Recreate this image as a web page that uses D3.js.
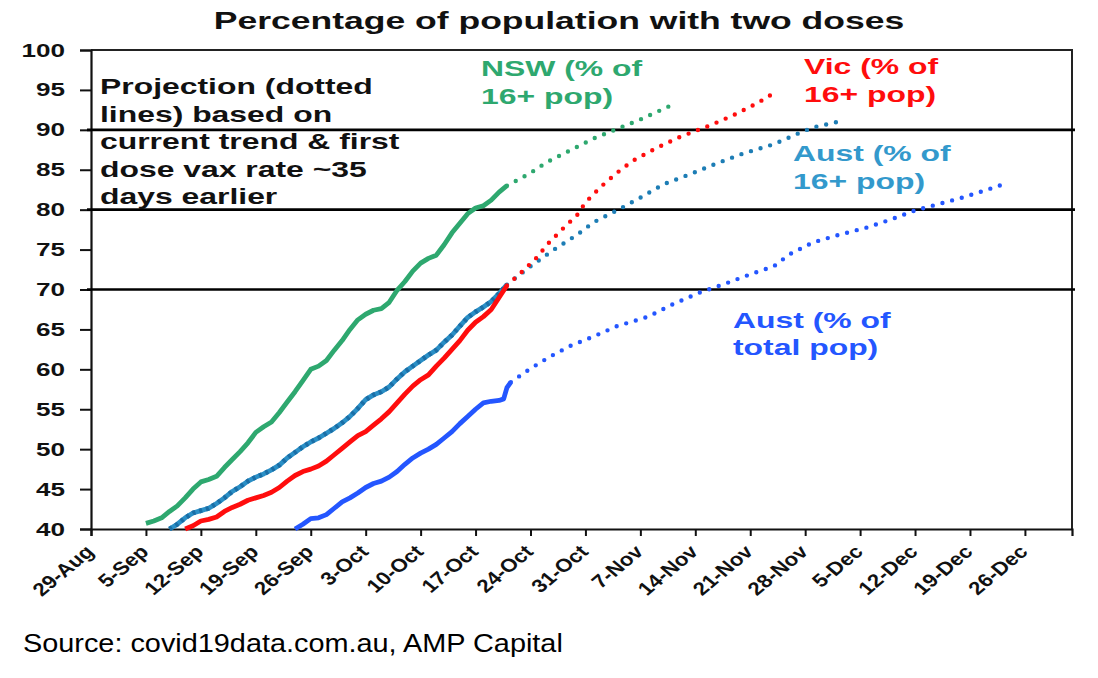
<!DOCTYPE html>
<html>
<head>
<meta charset="utf-8">
<script src="https://cdn.jsdelivr.net/npm/d3@7"></script>
<style>
  body { margin: 0; background: #fff; }
  svg { display: block; font-family: "Liberation Sans", Arial, sans-serif; }
</style>
</head>
<body>
<svg width="1098" height="678"></svg>
<script>
// day offsets from 29-Aug-2021, % with two doses
const nswActual = [[7,40.7],[8,41.0],[9,41.4],[10,42.2],[11,42.9],[12,43.9],[13,45.0],[14,45.9],[15,46.2],[16,46.6],[17,47.7],[18,48.7],[19,49.7],[20,50.8],[21,52.1],[22,52.8],[23,53.4],[24,54.6],[25,55.9],[26,57.2],[27,58.6],[28,60.0],[29,60.4],[30,61.1],[31,62.4],[32,63.6],[33,65.0],[34,66.2],[35,66.9],[36,67.4],[37,67.6],[38,68.4],[39,69.9],[40,71.0],[41,72.3],[42,73.3],[43,73.9],[44,74.3],[45,75.6],[46,77.1],[47,78.3],[48,79.5],[49,80.2],[50,80.5],[51,81.2],[52,82.2],[53,83.0]];
const nswProj = [[53,83.0],[56,84.6],[58,85.9],[61,87.4],[64,88.9],[67,90.1],[70,91.3],[72,92.2],[74,93.1]];

const vicActual = [[12,40.0],[13,40.4],[14,41.0],[15,41.2],[16,41.5],[17,42.2],[18,42.7],[19,43.1],[20,43.6],[21,43.9],[22,44.2],[23,44.6],[24,45.2],[25,46.0],[26,46.7],[27,47.2],[28,47.5],[29,47.9],[30,48.5],[31,49.3],[32,50.1],[33,50.9],[34,51.7],[35,52.2],[36,53.0],[37,53.8],[38,54.7],[39,55.8],[40,56.9],[41,57.9],[42,58.7],[43,59.3],[44,60.4],[45,61.4],[46,62.5],[47,63.6],[48,64.9],[49,65.9],[50,66.6],[51,67.5],[52,69.0],[53,70.5]];
const vicProj = [[53,70.5],[55,72.3],[57,74.2],[58,75.5],[60,77.5],[62,79.4],[63,80.9],[65,82.9],[67,84.6],[69,86.1],[72,87.7],[75,89.1],[79,90.6],[82,91.9],[85,93.4],[87,94.6]];

const aus16Actual = [[10,40.0],[11,40.6],[12,41.4],[13,42.0],[14,42.3],[15,42.6],[16,43.2],[17,43.9],[18,44.7],[19,45.3],[20,46.0],[21,46.5],[22,46.9],[23,47.4],[24,48.0],[25,48.9],[26,49.6],[27,50.3],[28,50.9],[29,51.4],[30,52.0],[31,52.6],[32,53.3],[33,54.1],[34,55.1],[35,56.2],[36,56.8],[37,57.2],[38,57.8],[39,58.8],[40,59.7],[41,60.4],[42,61.1],[43,61.8],[44,62.4],[45,63.4],[46,64.3],[47,65.4],[48,66.5],[49,67.2],[50,67.8],[51,68.5],[52,69.5],[53,70.6]];
const aus16Proj = [[53,70.6],[56,72.9],[59,75.0],[62,76.9],[64,78.4],[67,79.9],[70,81.5],[73,83.2],[77,84.7],[80,85.9],[83,87.0],[87,88.2],[90,89.5],[92,90.3],[96,91.2]];

const ausTotActual = [[26,40.0],[27,40.6],[28,41.3],[29,41.4],[30,41.8],[31,42.6],[32,43.4],[33,43.9],[34,44.5],[35,45.2],[36,45.7],[37,46.0],[38,46.5],[39,47.2],[40,48.1],[41,48.9],[42,49.5],[43,50.0],[44,50.6],[45,51.4],[46,52.2],[47,53.2],[48,54.1],[49,55.0],[50,55.8],[51,56.0],[52,56.1],[52.6,56.3],[53,57.7],[53.5,58.4]];
const ausTotProj = [[53.5,58.4],[56,60.1],[58.5,61.6],[61,62.9],[64,64.1],[67,65.4],[71,66.6],[74,68.1],[77.5,69.6],[81,70.8],[84,71.9],[87,72.9],[89,74.4],[92,75.9],[95.5,76.9],[99,77.8],[102,78.8],[105,79.9],[108,80.7],[111,81.5],[114.5,82.6],[116,83.1]];

const yTicks = [40,45,50,55,60,65,70,75,80,85,90,95,100];
const refLevels = [70,80,90];
const noteLines = ["Projection (dotted", "lines) based on", "current trend & first", "dose vax rate ~35", "days earlier"];
const nswLabel = ["NSW (% of", "16+ pop)"];
const vicLabel = ["Vic (% of", "16+ pop)"];
const aus16Label = ["Aust (% of", "16+ pop)"];
const ausTotLabel = ["Aust (% of", "total pop)"];
const titleText = "Percentage of population with two doses";
const sourceText = "Source: covid19data.com.au, AMP Capital";

const svg = d3.select("svg");
const SX = 1.45; // the original picture is stretched sideways
const startDate = new Date(2021, 7, 29);
const endDate = new Date(2022, 0, 1);
const toDate = d => d3.timeHour.offset(startDate, d * 24);

const x = d3.scaleTime().domain([startDate, endDate]).range([91, 1072]);
const y = d3.scaleLinear().domain([40, 100]).range([529, 50]);

const colors = { nsw: "#2ea86f", vic: "#ff0d0d", aus16: "#2a8fc6", ausTot: "#2456ff" };

function stretchText(sel, px, py, txt, size, fill, anchor, weight, sx) {
  return sel.append("text")
    .attr("transform", `translate(${px},${py}) scale(${sx || SX},1)`)
    .attr("text-anchor", anchor || "start")
    .attr("font-size", size)
    .attr("font-weight", weight || "bold")
    .attr("fill", fill)
    .text(txt);
}

// title
stretchText(svg, 559, 29, titleText, 24.5, "#111", "middle");

// plot frame (top and right)
svg.append("path")
  .attr("d", `M${x.range()[0]},${y(100)}H${x.range()[1]}V${y(40)}`)
  .attr("fill", "none").attr("stroke", "#222").attr("stroke-width", 2);

// y axis
const yAxis = svg.append("g").attr("transform", `translate(${x.range()[0]},0)`)
  .call(d3.axisLeft(y).tickValues(yTicks).tickSize(11).tickFormat(""));
yAxis.select(".domain").attr("stroke", "#111").attr("stroke-width", 2.2);
yAxis.selectAll(".tick line").attr("stroke", "#111").attr("stroke-width", 2);
yTicks.forEach(v => {
  stretchText(svg, 65, y(v) + 6.5, v, 18, "#111", "end");
});

// x axis
const weekTicks = d3.timeWeek.range(startDate, d3.timeDay.offset(endDate, -5));
const fmt = d3.timeFormat("%-d-%b");
const xAxis = svg.append("g").attr("transform", `translate(0,${y(40)})`)
  .call(d3.axisBottom(x).tickValues(weekTicks).tickSize(7).tickFormat(""));
xAxis.select(".domain").attr("stroke", "#111").attr("stroke-width", 2.2);
xAxis.selectAll(".tick line").attr("stroke", "#111").attr("stroke-width", 2);
weekTicks.forEach(t => {
  svg.append("text")
    .attr("transform", `translate(${x(t) + 4},${y(40) + 24}) scale(1.2,1) rotate(-45)`)
    .attr("text-anchor", "end")
    .attr("font-size", 18.5)
    .attr("font-weight", "bold")
    .attr("fill", "#111")
    .text(fmt(t));
});

// reference lines
refLevels.forEach(v => {
  svg.append("line")
    .attr("x1", x.range()[0] - 4).attr("x2", x.range()[1] + 3)
    .attr("y1", y(v)).attr("y2", y(v))
    .attr("stroke", "#000").attr("stroke-width", 2.6);
});

const line = d3.line().x(d => x(toDate(d[0]))).y(d => y(d[1])).curve(d3.curveLinear);
const plot = svg.append("g");

function drawSeries(actual, proj, color, dashed) {
  plot.append("path").attr("d", line(actual)).attr("fill", "none")
    .attr("stroke", color).attr("stroke-width", 4.8).attr("stroke-linejoin", "round");
  if (dashed) {
    plot.append("path").attr("d", line(actual)).attr("fill", "none")
      .attr("stroke", "#1a6ea6").attr("stroke-width", 4.8).attr("stroke-dasharray", "3 4");
  }
  plot.append("path").attr("d", line(proj)).attr("fill", "none")
    .attr("stroke", dashed ? "#1d7db5" : color).attr("stroke-width", 4.4)
    .attr("stroke-linecap", "round").attr("stroke-dasharray", "0 10");
}

drawSeries(nswActual, nswProj, colors.nsw, false);
drawSeries(aus16Actual, aus16Proj, colors.aus16, true);
drawSeries(vicActual, vicProj, colors.vic, false);
drawSeries(ausTotActual, ausTotProj, colors.ausTot, false);

// annotation and series labels
noteLines.forEach((t, i) => stretchText(svg, 100, 94 + i * 27.5, t, 22, "#111"));
nswLabel.forEach((t, i) => stretchText(svg, 481, 76 + i * 28, t, 22, colors.nsw));
vicLabel.forEach((t, i) => stretchText(svg, 804, 74 + i * 28, t, 22, colors.vic));
aus16Label.forEach((t, i) => stretchText(svg, 793, 161 + i * 28, t, 22, "#3399cc"));
ausTotLabel.forEach((t, i) => stretchText(svg, 733, 328 + i * 27, t, 22, colors.ausTot));

// source
stretchText(svg, 23, 652, sourceText, 26, "#000", "start", "normal", 1.11);
</script>
</body>
</html>
